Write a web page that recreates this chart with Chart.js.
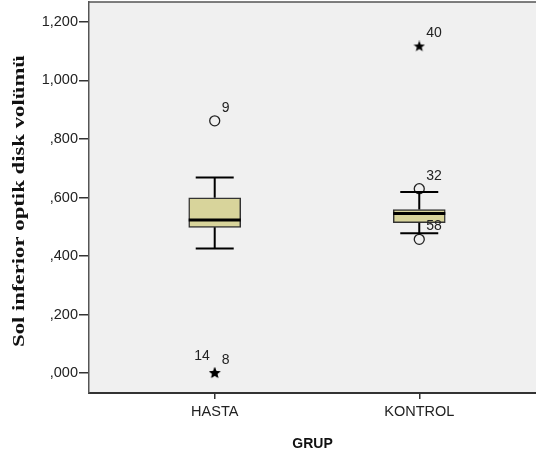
<!DOCTYPE html>
<html>
<head>
<meta charset="utf-8">
<script src="https://cdn.jsdelivr.net/npm/chart.js@4.4.1/dist/chart.umd.min.js"></script>
<style>
  html, body { margin: 0; padding: 0; background: #fff; overflow: hidden; }
  #wrap { width: 536px; height: 457px; }
</style>
</head>
<body>
<div id="wrap"><canvas id="boxChart"></canvas></div>
<script>
// groups and their box statistics
const groups = ['HASTA', 'KONTROL'];
const whiskerLow = [0.426, 0.478];
const q1 = [0.498, 0.514];
const median = [0.523, 0.545];
const q3 = [0.599, 0.559];
const whiskerHigh = [0.668, 0.619];

// outliers (circles) and extremes (stars), with case numbers
const outlierGroup = [0, 1, 1];
const outlierValue = [0.862, 0.630, 0.457];
const outlierLabel = ['9', '32', '58'];
const extremeGroup = [0, 0, 1];
const extremeValue = [0.0, 0.0, 1.116];
const extremeLabel = ['14', '8', '40'];

const yTicks = [0, 0.2, 0.4, 0.6, 0.8, 1.0, 1.2];
const yTickLabels = [',000', ',200', ',400', ',600', ',800', '1,000', '1,200'];
const yTitle = 'Sol inferior optik disk volümü';

const FONT = '"Liberation Sans", Arial, sans-serif';

// small filled star used for extreme values
function makeStar(size) {
    const c = document.createElement('canvas');
    c.width = size; c.height = size;
    const g = c.getContext('2d');
    const cx = size / 2, cy = size / 2, R = size / 2, r = R * 0.42;
    g.beginPath();
    for (let i = 0; i < 10; i++) {
        const rad = i % 2 === 0 ? R : r;
        const a = -Math.PI / 2 + i * Math.PI / 5;
        g.lineTo(cx + rad * Math.cos(a), cy + rad * Math.sin(a));
    }
    g.closePath();
    g.fillStyle = '#000';
    g.fill();
    return c;
}
const starImg = makeStar(12);

// background + top frame of the plot area, plus the rotated y title
const plotFrame = {
    id: 'plotFrame',
    beforeDraw(chart) {
        const { ctx, chartArea: a } = chart;
        ctx.save();
        ctx.fillStyle = '#f0f0f0';
        ctx.fillRect(a.left, a.top, a.right - a.left, a.bottom - a.top);
        ctx.strokeStyle = '#555';
        ctx.lineWidth = 1.5;
        ctx.beginPath();
        ctx.moveTo(a.left, a.top);
        ctx.lineTo(a.right, a.top);
        ctx.stroke();

        // y title: serif bold, a bit stretched like the original export
        ctx.font = 'bold 17px "Liberation Serif", "Times New Roman", serif';
        const w = ctx.measureText(yTitle).width;
        const target = 292;
        ctx.translate(20, 201);
        ctx.rotate(-Math.PI / 2);
        ctx.scale(target / w, 1);
        ctx.fillStyle = '#111';
        ctx.textAlign = 'center';
        ctx.textBaseline = 'middle';
        ctx.fillText(yTitle, 0, 0);
        ctx.restore();
    }
};

// whiskers and median lines, placed with the chart scales
const boxLines = {
    id: 'boxLines',
    afterDatasetsDraw(chart) {
        const { ctx, scales: { x, y } } = chart;
        const half = 19, boxHalf = 26;
        ctx.save();
        ctx.strokeStyle = '#000';
        groups.forEach((g, i) => {
            const cx = x.getPixelForValue(i);
            ctx.lineWidth = 2;
            ctx.beginPath();
            ctx.moveTo(cx, y.getPixelForValue(q3[i]));
            ctx.lineTo(cx, y.getPixelForValue(whiskerHigh[i]));
            ctx.moveTo(cx, y.getPixelForValue(q1[i]));
            ctx.lineTo(cx, y.getPixelForValue(whiskerLow[i]));
            ctx.moveTo(cx - half, y.getPixelForValue(whiskerHigh[i]));
            ctx.lineTo(cx + half, y.getPixelForValue(whiskerHigh[i]));
            ctx.moveTo(cx - half, y.getPixelForValue(whiskerLow[i]));
            ctx.lineTo(cx + half, y.getPixelForValue(whiskerLow[i]));
            ctx.stroke();
            ctx.lineWidth = 3;
            ctx.beginPath();
            ctx.moveTo(cx - boxHalf, y.getPixelForValue(median[i]));
            ctx.lineTo(cx + boxHalf, y.getPixelForValue(median[i]));
            ctx.stroke();
        });
        ctx.restore();
    }
};

// case numbers next to outliers
const caseLabels = {
    id: 'caseLabels',
    afterDatasetsDraw(chart) {
        const { ctx } = chart;
        ctx.save();
        ctx.font = '14px ' + FONT;
        ctx.fillStyle = '#222';
        ctx.textBaseline = 'middle';
        [[1, outlierLabel], [2, extremeLabel]].forEach(([di, labels]) => {
            const meta = chart.getDatasetMeta(di);
            meta.data.forEach((pt, j) => {
                // two cases on the same point: first to the left, second to the right
                const shared = meta.data.some((o, k) => k > j && Math.abs(o.y - pt.y) < 1 && Math.abs(o.x - pt.x) < 1);
                if (shared) {
                    ctx.textAlign = 'right';
                    ctx.fillText(labels[j], pt.x - 5, pt.y - 17);
                } else {
                    ctx.textAlign = 'left';
                    ctx.fillText(labels[j], pt.x + 7, pt.y - 13);
                }
            });
        });
        ctx.restore();
    }
};

const ctx = document.getElementById('boxChart').getContext('2d');
const chart = new Chart(ctx, {
    type: 'bar',
    data: {
        datasets: [{
            label: 'box',
            data: groups.map((g, i) => ({ x: i, y: [q1[i], q3[i]] })),
            backgroundColor: '#d8d49b',
            borderColor: '#333',
            borderWidth: 1.5,
            borderSkipped: false,
            barThickness: 52,
            order: 2
        }, {
            type: 'scatter',
            label: 'outliers',
            data: outlierGroup.map((g, i) => ({ x: g, y: outlierValue[i] })),
            pointStyle: 'circle',
            pointRadius: 5,
            backgroundColor: 'rgba(0,0,0,0)',
            borderColor: '#222',
            borderWidth: 1.3,
            order: 1
        }, {
            type: 'scatter',
            label: 'extremes',
            data: extremeGroup.map((g, i) => ({ x: g, y: extremeValue[i] })),
            pointStyle: starImg,
            order: 1
        }]
    },
    options: {
        responsive: true,
        maintainAspectRatio: false,
        animation: false,
        layout: { autoPadding: false, padding: { top: 2, right: 0, left: 0, bottom: 0 } },
        plugins: {
            legend: { display: false },
            tooltip: { enabled: false }
        },
        scales: {
            x: {
                type: 'linear',
                offset: false,
                min: -0.6146,
                max: 1.5707,
                afterBuildTicks: s => { s.ticks = groups.map((g, i) => ({ value: i })); },
                afterFit: s => { s.height = 64; s.paddingLeft = 0; s.paddingRight = 0; },
                ticks: {
                    callback: v => groups[v],
                    color: '#222',
                    font: { family: FONT, size: 14.5 },
                    padding: 4
                },
                grid: { offset: false, drawOnChartArea: false, drawTicks: true, tickLength: 6, color: '#333', lineWidth: 1.5 },
                border: { color: '#333', width: 2 },
                title: {
                    display: true,
                    text: 'GRUP',
                    color: '#111',
                    font: { family: FONT, size: 14, weight: 'bold' },
                    padding: { top: 9 }
                }
            },
            y: {
                min: -0.068,
                max: 1.268,
                afterBuildTicks: s => { s.ticks = yTicks.map(v => ({ value: v })); },
                afterFit: s => { s.width = 89; s.paddingTop = 0; s.paddingBottom = 0; },
                ticks: {
                    callback: v => yTickLabels[yTicks.indexOf(Math.round(v * 10) / 10)],
                    color: '#222',
                    font: { family: FONT, size: 14.5 },
                    padding: 1
                },
                grid: { drawOnChartArea: false, drawTicks: true, tickLength: 10, color: '#333', lineWidth: 1.5 },
                border: { color: '#555', width: 1.5 }
            }
        }
    },
    plugins: [plotFrame, boxLines, caseLabels]
});
</script>
</body>
</html>
